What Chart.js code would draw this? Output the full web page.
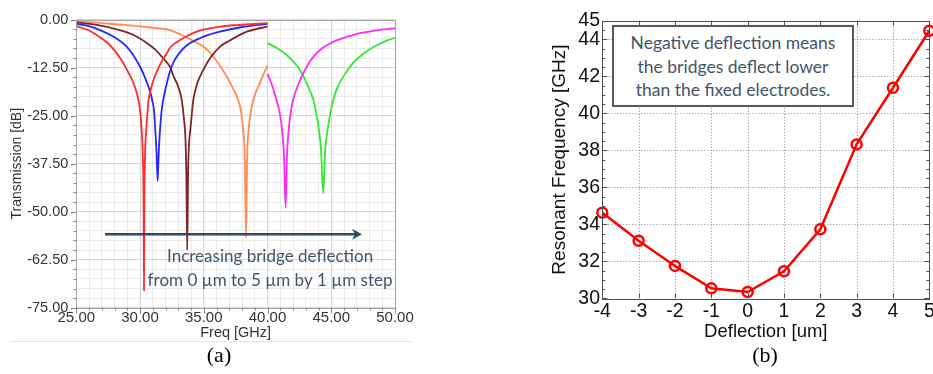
<!DOCTYPE html>
<html><head><meta charset="utf-8">
<script src="https://cdn.jsdelivr.net/npm/chart.js@4.4.1/dist/chart.umd.min.js"></script>
<style>
html,body{margin:0;padding:0;background:#fff;width:933px;height:374px;overflow:hidden;position:relative}
.c{position:absolute}
#sep{position:absolute;left:10px;top:341px;width:402px;height:1px;background:#e4e4e4}
.cap{position:absolute;font-family:'Liberation Serif','Times New Roman',serif;font-size:22px;line-height:22px;color:#000;transform:translateX(-50%);white-space:nowrap}
#note{position:absolute;left:612px;top:25px;width:242px;height:82px;border:2px solid #5a5a5a;background:#fff;color:#44546A;font-family:Lato,'Open Sans',sans-serif;font-size:17.5px;line-height:23.5px;text-align:center;box-sizing:border-box;padding-top:4px;white-space:nowrap}
</style></head><body>
<canvas id="ca" class="c" width="430" height="345" style="left:0;top:0"></canvas>
<canvas id="cb" class="c" width="430" height="345" style="left:520px;top:0"></canvas>
<div id="sep"></div>
<div class="cap" style="left:219px;top:343.5px">(a)</div>
<div class="cap" style="left:765px;top:343.5px">(b)</div>
<div id="note">Negative deflection means<br>the bridges deflect lower<br>than the fixed electrodes.</div>
<script>
// ---------- (a) transmission curves: frequency [GHz] / transmission [dB] ----------
const redF = [25, 26, 27, 27.5, 28, 28.5, 29, 29.4, 29.7, 29.87, 30.0, 30.13, 30.22, 30.28, 30.31, 30.34, 30.4, 30.47, 30.65, 30.8, 31.0, 31.3, 31.7, 32.09, 32.35, 33.0, 33.66, 34.3, 34.96, 36.3, 37.58, 39.0, 40.0];
const redDb = [-1.7, -2.8, -4.9, -6.2, -8.0, -10.3, -13.2, -15.8, -18.6, -20.9, -23.5, -29.0, -36.0, -48.0, -70.5, -48.0, -34.0, -29.6, -21.5, -18.8, -16.2, -13.6, -10.9, -8.8, -7.3, -5.6, -4.3, -3.3, -2.6, -1.8, -1.4, -1.1, -0.9];

const blueF = [25, 26, 27, 28, 28.95, 29.5, 30.13, 30.5, 30.78, 30.95, 31.1, 31.2, 31.3, 31.38, 31.46, 31.55, 31.7, 31.82, 32.0, 32.35, 32.7, 33.13, 33.7, 34.44, 35.3, 36.27, 38.0, 40.0];
const blueDb = [-1.1, -1.7, -2.9, -4.6, -7.0, -9.4, -13.1, -16.0, -18.6, -20.9, -23.8, -29.0, -35.0, -42.0, -35.0, -29.6, -23.5, -20.9, -18.0, -13.4, -10.6, -8.5, -6.6, -5.2, -4.0, -3.1, -1.9, -1.1];

const brownF = [25, 26.5, 28.4, 29.5, 30.5, 31.2, 31.8, 32.35, 32.6, 33.0, 33.27, 33.45, 33.55, 33.63, 33.7, 33.77, 33.85, 33.92, 34.18, 34.5, 34.96, 35.5, 36.27, 37.0, 37.58, 38.5, 40.0];
const brownDb = [-0.7, -1.3, -2.7, -4.0, -6.0, -7.8, -10.0, -12.3, -14.5, -17.5, -20.9, -26.0, -30.0, -40.0, -60.0, -40.0, -32.0, -29.6, -20.9, -16.5, -13.1, -10.0, -7.0, -5.5, -4.4, -3.0, -1.8];

const orangeF = [25, 27, 29, 31, 32.35, 33.14, 34.0, 34.96, 35.6, 36.27, 36.8, 37.31, 37.7, 37.9, 38.1, 38.22, 38.31, 38.4, 38.49, 38.65, 38.88, 39.4, 40.0];
const orangeDb = [-0.4, -0.9, -1.4, -2.1, -2.7, -3.8, -5.2, -7.0, -9.0, -12.0, -14.8, -18.0, -20.9, -23.5, -29.0, -36.0, -56.7, -36.0, -29.6, -25.0, -20.9, -16.5, -11.8];

const magentaF = [40, 40.3, 40.7, 40.97, 41.15, 41.3, 41.42, 41.52, 41.65, 41.85, 42.0, 42.4, 42.8, 43.4, 44.11, 45.0, 45.94, 47.0, 48.5, 50.0];
const magentaDb = [-14.2, -16.5, -20.9, -24.5, -29.0, -36.0, -49.0, -36.0, -29.0, -23.5, -20.9, -17.0, -14.0, -10.5, -7.9, -6.0, -4.8, -3.7, -2.8, -2.2];

const greenF = [40, 40.8, 41.5, 42.0, 42.55, 43.0, 43.3, 43.6, 43.8, 44.05, 44.2, 44.37, 44.52, 44.7, 44.95, 45.16, 45.5, 46.0, 46.7, 47.56, 48.5, 49.86, 50.0];
const greenDb = [-6.1, -7.5, -9.2, -10.8, -13.1, -16.0, -18.3, -20.9, -24.0, -29.0, -34.0, -45.2, -34.0, -29.0, -24.0, -20.9, -17.5, -14.5, -11.3, -8.75, -6.8, -4.85, -4.8];

// annotation anchors (data coordinates of panel a)
const arrowFreq = [27.25, 47.41];
const arrowDb = -55.9;
const noteFreq = 40.2;
const noteDb = [-61.8, -67.8];
const noteLines = ['Increasing bridge deflection', 'from 0 \u00b5m to 5 \u00b5m by 1 \u00b5m step'];

// ---------- (b) resonant frequency vs deflection ----------
const deflection = [-4, -3, -2, -1, 0, 1, 2, 3, 4, 5];
const resonantFreq = [34.63, 33.11, 31.75, 30.54, 30.34, 31.46, 33.73, 38.32, 41.38, 44.46];
const yTicksB = [30, 32, 34, 36, 38, 40, 42, 44, 45];

Chart.defaults.font.family = "'Liberation Sans', Arial, sans-serif";
Chart.defaults.animation = false;

const pts = (f, d) => f.map((v, i) => ({x: v, y: d[i]}));
const isMul = (v, s) => Math.abs(v / s - Math.round(v / s)) < 1e-6;

function curve(label, f, d, color) {
  return {label, data: pts(f, d), borderColor: color, borderWidth: 1.8, pointRadius: 0,
          cubicInterpolationMode: 'monotone', fill: false};
}

const decorA = {
  id: 'decorA',
  afterDraw(chart) {
    const {ctx, chartArea: a, scales: {x, y}} = chart;
    ctx.save();
    ctx.strokeStyle = '#a8a8a8'; ctx.lineWidth = 1;
    ctx.strokeRect(Math.round(a.left) + 0.5, Math.round(a.top) + 0.5, Math.round(a.right - a.left), Math.round(a.bottom - a.top));
    ctx.strokeStyle = '#8a8a8a';
    ctx.beginPath();
    x.ticks.forEach(t => {
      const px = Math.round(x.getPixelForValue(t.value)) + 0.5;
      const L = isMul(t.value, 5) ? 6 : 3;
      ctx.moveTo(px, a.bottom); ctx.lineTo(px, a.bottom + L);
    });
    y.ticks.forEach(t => {
      const py = Math.round(y.getPixelForValue(t.value)) + 0.5;
      const L = isMul(t.value, 12.5) ? 6 : 3;
      ctx.moveTo(a.left, py); ctx.lineTo(a.left - L, py);
    });
    ctx.stroke();
    // arrow
    const x0 = x.getPixelForValue(arrowFreq[0]), x1 = x.getPixelForValue(arrowFreq[1]);
    const ay = y.getPixelForValue(arrowDb);
    ctx.strokeStyle = '#2F4A6A'; ctx.fillStyle = '#2F4A6A'; ctx.lineWidth = 2.5;
    ctx.beginPath(); ctx.moveTo(x0, ay); ctx.lineTo(x1 - 6, ay); ctx.stroke();
    ctx.beginPath(); ctx.moveTo(x1, ay); ctx.lineTo(x1 - 10, ay - 5.5); ctx.lineTo(x1 - 7, ay); ctx.lineTo(x1 - 10, ay + 5.5); ctx.closePath(); ctx.fill();
    // text
    ctx.fillStyle = '#44546A';
    ctx.font = "17px Lato, 'Open Sans', sans-serif";
    ctx.textAlign = 'center'; ctx.textBaseline = 'middle';
    noteLines.forEach((s, i) => ctx.fillText(s, x.getPixelForValue(noteFreq), y.getPixelForValue(noteDb[i])));
    ctx.restore();
  }
};

new Chart(document.getElementById('ca'), {
  type: 'line',
  data: {datasets: [
    curve('0 um', redF, redDb, 'rgb(255,45,45)'),
    curve('1 um', blueF, blueDb, 'rgb(40,40,255)'),
    curve('2 um', brownF, brownDb, 'rgb(128,38,38)'),
    curve('3 um', orangeF, orangeDb, 'rgb(255,140,80)'),
    curve('4 um', magentaF, magentaDb, 'rgb(255,40,255)'),
    curve('5 um', greenF, greenDb, 'rgb(50,232,50)')
  ]},
  options: {
    responsive: false, devicePixelRatio: 1,
    layout: {padding: {left: 0, top: 19.7, right: 35, bottom: 0}},
    plugins: {legend: {display: false}, tooltip: {enabled: false}},
    scales: {
      x: {type: 'linear', min: 25, max: 50,
          afterFit: s => { s.height = 37.3; },
          border: {display: false},
          grid: {drawTicks: false, color: c => isMul(c.tick.value, 5) ? '#d6d6d6' : '#ebebeb', lineWidth: 1},
          ticks: {stepSize: 1, autoSkip: false, maxRotation: 0, minRotation: 0, padding: 1.6,
                  color: '#333', font: {size: 15},
                  callback: v => isMul(v, 5) ? Number(v).toFixed(2) : ''},
          title: {display: true, text: 'Freq [GHz]', color: '#333', font: {size: 14.5}, padding: {top: 0, bottom: 3}}},
      y: {type: 'linear', min: -75, max: 0,
          afterFit: s => { s.width = 76.3; },
          border: {display: false},
          grid: {drawTicks: false, color: c => isMul(c.tick.value, 12.5) ? '#d6d6d6' : '#ebebeb', lineWidth: 1},
          ticks: {stepSize: 2.5, autoSkip: false, padding: 8, color: '#333', font: {size: 14.5},
                  callback: v => isMul(v, 12.5) ? Math.abs(v) < 1e-9 ? '0.00' : Number(v).toFixed(2) : ''},
          title: {display: true, text: 'Transmission [dB]', color: '#333', font: {size: 14}, padding: {top: 8.6, bottom: 0}}}
    }
  },
  plugins: [decorA]
});

const decorB = {
  id: 'decorB',
  beforeDatasetsDraw(chart) {
    const {ctx, chartArea: a, scales: {x, y}} = chart;
    ctx.save();
    ctx.strokeStyle = '#8c8c8c'; ctx.lineWidth = 1; ctx.setLineDash([1, 2]);
    ctx.beginPath();
    x.ticks.forEach(t => {
      if (t.value <= x.min || t.value >= x.max) return;
      const px = Math.round(x.getPixelForValue(t.value)) + 0.5;
      ctx.moveTo(px, a.top); ctx.lineTo(px, a.bottom);
    });
    y.ticks.forEach(t => {
      if (t.value <= y.min || t.value >= y.max) return;
      const py = Math.round(y.getPixelForValue(t.value)) + 0.5;
      ctx.moveTo(a.left, py); ctx.lineTo(a.right, py);
    });
    ctx.stroke();
    ctx.restore();
  },
  afterDraw(chart) {
    const {ctx, chartArea: a, scales: {x, y}} = chart;
    ctx.save();
    ctx.strokeStyle = '#505050'; ctx.lineWidth = 1;
    ctx.strokeRect(Math.round(a.left) + 0.5, Math.round(a.top) + 0.5, Math.round(a.right - a.left), Math.round(a.bottom - a.top));
    ctx.beginPath();
    for (let v = y.min; v <= y.max + 1e-9; v += 0.5) {
      const py = Math.round(y.getPixelForValue(v)) + 0.5;
      const L = isMul(v, 2) ? 5 : 3;
      ctx.moveTo(a.left, py); ctx.lineTo(a.left + L, py);
      ctx.moveTo(a.right, py); ctx.lineTo(a.right - L, py);
    }
    x.ticks.forEach(t => {
      const px = Math.round(x.getPixelForValue(t.value)) + 0.5;
      ctx.moveTo(px, a.bottom); ctx.lineTo(px, a.bottom - 5);
      ctx.moveTo(px, a.top); ctx.lineTo(px, a.top + 5);
    });
    ctx.stroke();
    ctx.restore();
  }
};

new Chart(document.getElementById('cb'), {
  type: 'line',
  data: {datasets: [{
    label: 'Resonant frequency', data: pts(deflection, resonantFreq),
    borderColor: '#ff0000', borderWidth: 2.5, pointRadius: 5, pointBorderWidth: 2.5,
    pointBackgroundColor: 'rgba(0,0,0,0)', pointBorderColor: '#ff0000', clip: false, tension: 0
  }]},
  options: {
    responsive: false, devicePixelRatio: 1,
    layout: {padding: {left: 0, top: 20.8, right: 20.7, bottom: 0}},
    plugins: {legend: {display: false}, tooltip: {enabled: false}},
    scales: {
      x: {type: 'linear', min: -4, max: 5,
          afterFit: s => { s.height = 46.7; },
          border: {display: false},
          grid: {display: false, drawTicks: false},
          ticks: {stepSize: 1, autoSkip: false, maxRotation: 0, minRotation: 0, padding: 2, color: '#111', font: {size: 19.5}},
          title: {display: true, text: 'Deflection [um]', color: '#111', font: {size: 18.5}, padding: {top: 0, bottom: 2.2}}},
      y: {type: 'linear', min: 30, max: 45,
          afterFit: s => { s.width = 82.3; },
          afterBuildTicks: s => { s.ticks = yTicksB.map(v => ({value: v})); },
          border: {display: false},
          grid: {display: false, drawTicks: false},
          ticks: {autoSkip: false, padding: 2.3, color: '#111', font: {size: 19.5}},
          title: {display: true, text: 'Resonant Frequency [GHz]', color: '#111', font: {size: 19}, padding: {top: 28.6, bottom: 0}}}
    }
  },
  plugins: [decorB]
});
</script>
</body></html>
